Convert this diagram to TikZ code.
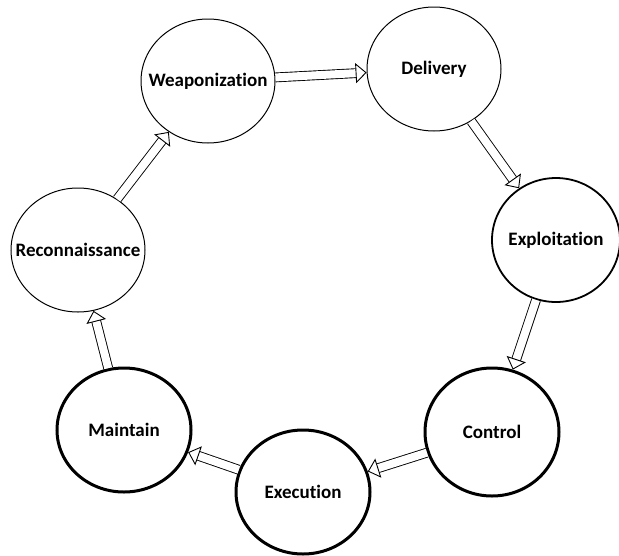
\documentclass[tikz,border=0pt]{standalone}
\usepackage{fontspec}
\setmainfont{Carlito}[Ligatures=NoCommon]
\usepackage{tikz}
\usetikzlibrary{shapes.geometric}
\usetikzlibrary{arrows.meta}

\begin{document}
\begin{tikzpicture}[x=1pt,y=-1pt,
		stage/.style={ellipse,draw,line width=1pt,minimum width=134pt,minimum height=124pt,inner sep=0pt},
		mid stage/.style={stage,line width=1.8pt},
		bold stage/.style={stage,line width=3pt},
		every label/.style={font=\fontsize{19}{21}\selectfont\bfseries},
		cyc/.style={draw,double,line width=0.9pt,double distance=8pt,-{Triangle[open,length=11pt,width=20pt,line width=0.9pt]}}]
	     \useasboundingbox (0,0) rectangle (619,555);
	     \node[stage, label=center:{Weaponization}] (weap) at (208,81) {};
	     \node[stage, label=center:{Delivery}] (deliv) at (434,69) {};
	     \node[mid stage, minimum width=128pt, label=center:{Exploitation}] (explo) at (556,240) {};
	     \node[bold stage, minimum height=128pt, label=center:{Control}] (ctrl) at (492,432) {};
	     \node[bold stage, label=center:{Execution}] (exec) at (303,492) {};
	     \node[bold stage, label=center:{Maintain}] (maint) at (124,430) {};
	     \node[stage, label=center:{Reconnaissance}] (recon) at (78,250) {};

	     \path[every edge/.style=cyc]
	       (recon) edge (weap)
	       (weap) edge (deliv)
	       (deliv) edge (explo)
	       (explo) edge (ctrl)
	       (ctrl) edge (exec)
	       (exec) edge (maint)
	       (maint) edge (recon)
	     ;
            \end{tikzpicture}
\end{document}
